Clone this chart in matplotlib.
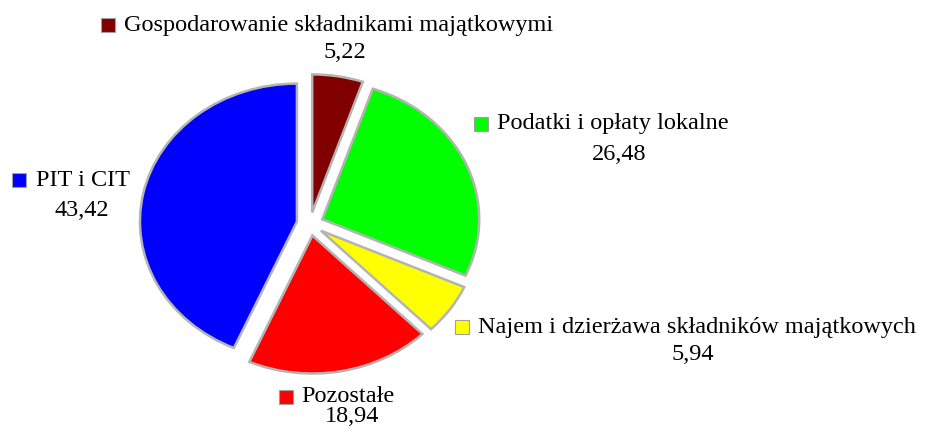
import matplotlib
matplotlib.use("Agg")
import matplotlib.pyplot as plt
from matplotlib.patches import Rectangle

categories = ["Gospodarowanie składnikami majątkowymi", "Podatki i opłaty lokalne",
              "Najem i dzierżawa składników majątkowych", "Pozostałe", "PIT i CIT"]
values = [5.22, 26.48, 5.94, 18.94, 43.42]
colors = ["#800000", "#00FF00", "#FFFF00", "#FF0000", "#0000FF"]

W, H = 934, 433
fig = plt.figure(figsize=(W / 100, H / 100), dpi=100)
ax = fig.add_axes([0, 0, 1, 1])

cx, cy = 310, 224      # pie centre (pixels from top-left)
rx, ry = 157, 138      # pixel radii
ax.pie(values, colors=colors, startangle=90, counterclock=False,
       explode=[0.085] * len(values),
       wedgeprops=dict(edgecolor="#B4B4B4", linewidth=1.8))
ax.set_aspect("auto")
ax.set_xlim(-cx / rx, (W - cx) / rx)
ax.set_ylim(-(H - cy) / ry, cy / ry)
ax.axis("off")

# label layout: (text left x, name y, value centre x, value y, square left x) in pixels
label_pos = [
    (124, 25, 345, 53, 101),
    (497, 124, 619, 155, 474),
    (478, 327, 693, 355, 455),
    (301, 397, 352, 416, 279),
    (36, 180, 82, 210, 12),
]

def fx(px):
    return px / W

def fy(py):
    return 1 - py / H

font = dict(family="Liberation Serif", fontsize=17.5, color="black")
for name, val, col, (tx, ty, vx, vy, sx) in zip(categories, values, colors, label_pos):
    fig.text(fx(tx), fy(ty), name, ha="left", va="center", **font)
    fig.text(fx(vx), fy(vy), f"{val:.2f}".replace(".", ","), ha="center", va="center", **font)
    fig.patches.append(Rectangle((fx(sx), fy(ty + 7)), 14 / W, 14 / H,
                                 transform=fig.transFigure, facecolor=col,
                                 edgecolor="#A0A0A0", linewidth=0.8))

fig.savefig("out.png", dpi=100)
